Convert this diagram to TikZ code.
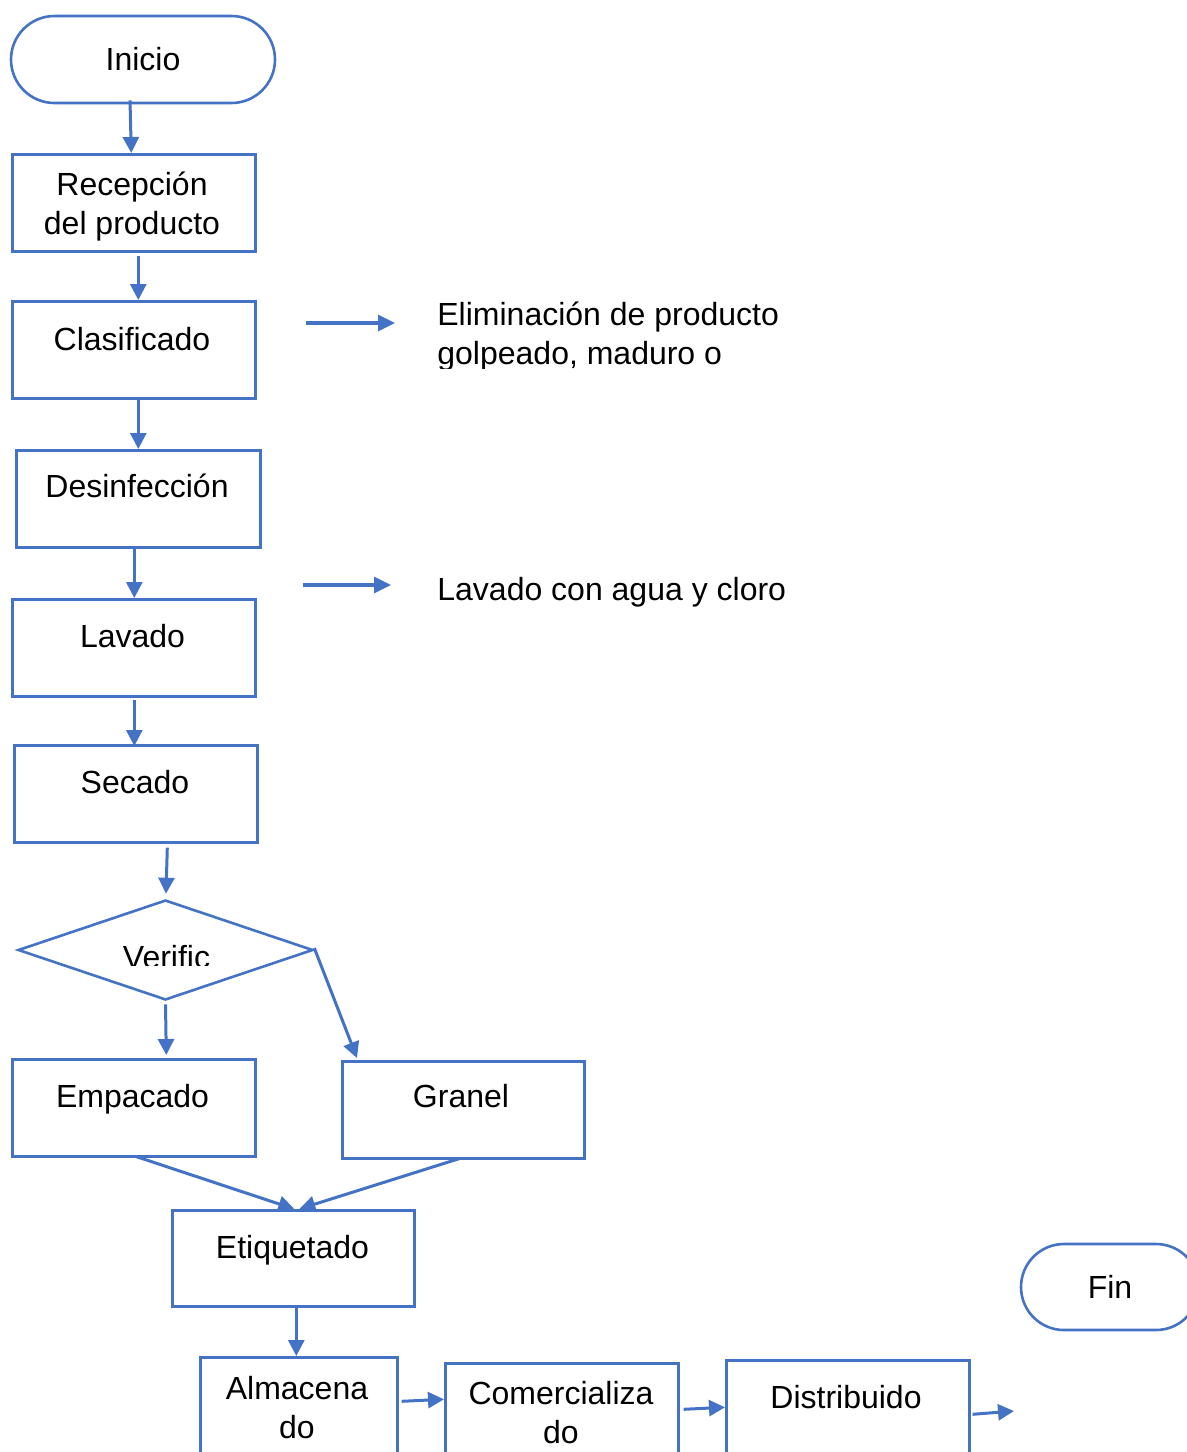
\documentclass[tikz,border=0pt]{standalone}
\usepackage{fontspec}
\setmainfont{Liberation Sans}
\usetikzlibrary{shapes.geometric,shapes.misc,arrows.meta}
\definecolor{flowblue}{RGB}{68,114,196}
\begin{document}
\begin{tikzpicture}[x=0.5pt,y=-0.5pt,
  box/.style={draw=flowblue,line width=1.3pt,inner sep=0pt,anchor=north west,
              minimum width=#1,minimum height=48.5pt},
  box/.default=121.5pt,
  term/.style={draw=flowblue,line width=1.3pt,rounded rectangle,inner sep=0pt,
               minimum height=43.5pt},
  txt/.style={font=\fontsize{16}{19.5}\selectfont,inner sep=0pt,anchor=base,align=center},
  side/.style={font=\fontsize{16}{19.5}\selectfont,inner sep=0pt,anchor=base west,align=left},
  arr/.style={draw=flowblue,line width=1.5pt,-{Triangle[length=8pt,width=8pt]}},
  arrs/.style={draw=flowblue,line width=1.6pt,-{Triangle[length=8.5pt,width=8pt]}}]

% page frame
\useasboundingbox (0,0) rectangle (1187,1452);
\clip (0,0) rectangle (1187,1452);

% terminators
\node[term,minimum width=132pt] (inicio) at (143,59.5) {};
\node[txt] (tinicio) at (143,70) {Inicio};
\node[term,minimum width=89pt,minimum height=43pt] (fin) at (1110,1287) {};
\node[txt] (tfin) at (1110,1298) {Fin};

% process boxes (multi-line labels sit on the baseline of their last line)
\node[box] (rec) at (11,153) {};
\node[txt] (trec) at (132,234) {Recepción\\del producto};
\node[box] (clas) at (11,300) {};
\node[txt] (tclas) at (132,350) {Clasificado};
\node[box=122pt] (desinf) at (15,449) {};
\node[txt] (tdesinf) at (137,497) {Desinfección};
\node[box] (lav) at (11,598) {};
\node[txt] (tlav) at (132.5,647) {Lavado};
\node[box] (sec) at (13,744) {};
\node[txt] (tsec) at (135,793) {Secado};

% decision
\node[diamond,draw=flowblue,line width=1.3pt,inner sep=0pt,
      minimum width=147.5pt,minimum height=50pt] (dec) at (165.5,950) {};
\begin{scope}
  \clip (100,930) rectangle (240,965);
  \node[txt] (tdec) at (166.5,968) {Verific};
\end{scope}

\node[box] (emp) at (11,1058) {};
\node[txt] (temp) at (132.5,1107) {Empacado};
\node[box=121pt] (gra) at (341,1060) {};
\node[txt] (tgra) at (461,1107) {Granel};
\node[box=121pt,minimum height=48pt] (eti) at (171,1209) {};
\node[txt] (teti) at (292.5,1258) {Etiquetado};

% bottom row
\node[box=98.5pt] (alm) at (199,1356) {};
\node[txt] (talm) at (297,1438) {Almacena\\do};
\node[box=116.5pt] (com) at (444,1362) {};
\node[txt] (tcom) at (561,1443) {Comercializa\\do};
\node[box] (dis) at (725,1359) {};
\node[txt] (tdis) at (846,1408) {Distribuido};

% side notes
\begin{scope}
  \clip (420,280) rectangle (800,368);
  \node[side] (elim) at (437,364) {Eliminación de producto\\golpeado, maduro o};
\end{scope}
\node[side] (clor) at (437,600) {Lavado con agua y cloro};
\coordinate (ea) at (306,323);
\coordinate (eb) at (395,323);
\coordinate (la) at (303,585);
\coordinate (lb) at (391,585);
\coordinate (salida) at (1014,1411);

% connectors
\draw[arr] ([xshift=-6.5pt,yshift=2pt]inicio.south) -- ([xshift=-1.25pt]rec.north);
\draw[arr] ([xshift=2.25pt,yshift=-1.5pt]rec.south) -- ([xshift=2.25pt]clas.north);
\draw[arr] ([xshift=2.25pt]clas.south) -- (desinf.north);
\draw[arr] ([xshift=-2pt]desinf.south) -- ([xshift=0.25pt]lav.north);
\draw[arr] ([xshift=0.25pt,yshift=-1pt]lav.south) -- ([xshift=-0.75pt,yshift=-1pt]sec.north);
\draw[arr] ([xshift=15.75pt,yshift=-2pt]sec.south) -- ([xshift=0.25pt,yshift=2.5pt]dec.north);
\draw[arr] ([yshift=-1.5pt]dec.south) -- ([xshift=16.25pt,yshift=1.5pt]emp.north);
\draw[arr] ([yshift=1pt]dec.east) -- ([xshift=8pt,yshift=1pt]gra.north west);
\draw[arr] ([xshift=1.25pt,yshift=0.5pt]emp.south) -- ([xshift=0.5pt]eti.north);
\draw[arr] ([xshift=-2pt,yshift=0.5pt]gra.south) -- ([xshift=3pt]eti.north);
\draw[arr] ([xshift=1.5pt]eti.south) -- ([xshift=-1.25pt]alm.north);
\draw[arr] ([xshift=1.5pt,yshift=2.25pt]alm.east) -- ([yshift=6.25pt]com.west);
\draw[arr] ([xshift=2pt,yshift=1.25pt]com.east) -- ([yshift=0.75pt]dis.west);
\draw[arr] ([xshift=1pt,yshift=-2.75pt]dis.east) -- (salida);
\draw[arrs] (ea) -- (eb);
\draw[arrs] (la) -- (lb);
\end{tikzpicture}
\end{document}
